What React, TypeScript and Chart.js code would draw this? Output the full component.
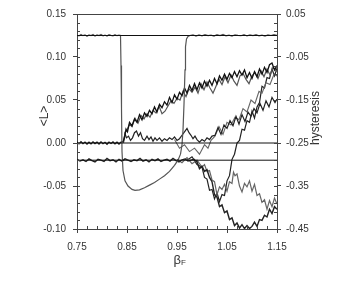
import React, { useEffect, useRef } from "react";
import { Chart, registerables } from "chart.js";

Chart.register(...registerables);

const xTickValues = [0.75, 0.85, 0.95, 1.05, 1.15];
const leftTickValues = [0.15, 0.1, 0.05, 0.0, -0.05, -0.1];
const rightTickValues = [0.05, -0.05, -0.15, -0.25, -0.35, -0.45];
const xTitle = "β";
const xTitleSub = "F";
const leftTitle = "<L>";
const rightTitle = "hysteresis";

// reference lines (left axis <L>)
const refLevels = [0.125, 0.0, -0.02];

// trace A (<L>): upper plateau, drop, dip, jump back
const traceA: [number, number][] = [
  [0.750, 0.1255], [0.754, 0.1245], [0.758, 0.1262], [0.762, 0.1248], [0.766, 0.1258], [0.770, 0.1242],
  [0.774, 0.1256], [0.778, 0.1250], [0.782, 0.1261], [0.786, 0.1244], [0.790, 0.1257], [0.794, 0.1249],
  [0.798, 0.1263], [0.802, 0.1246], [0.806, 0.1255], [0.810, 0.1243], [0.814, 0.1259], [0.818, 0.1251],
  [0.822, 0.1246], [0.826, 0.1260], [0.830, 0.1248], [0.834, 0.1254], [0.837, 0.1250],
  [0.838, 0.09], [0.839, 0.04], [0.840, -0.01], [0.842, -0.032], [0.846, -0.044], [0.852, -0.050],
  [0.860, -0.054], [0.866, -0.055], [0.875, -0.0545], [0.885, -0.052], [0.895, -0.049], [0.905, -0.046],
  [0.915, -0.042], [0.925, -0.038], [0.935, -0.033], [0.945, -0.026], [0.952, -0.020], [0.957, -0.013],
  [0.960, -0.002], [0.962, 0.015], [0.964, 0.045], [0.966, 0.085], [0.967, 0.112], [0.969, 0.121],
  [0.972, 0.124], [0.976, 0.125],
  [0.982, 0.1258], [0.988, 0.1244], [0.994, 0.1256], [1.000, 0.1247], [1.006, 0.1261], [1.012, 0.1249],
  [1.018, 0.1255], [1.024, 0.1243], [1.030, 0.1259], [1.036, 0.1250], [1.042, 0.1262], [1.048, 0.1246],
  [1.054, 0.1254], [1.060, 0.1244], [1.066, 0.1258], [1.072, 0.1251], [1.078, 0.1247], [1.084, 0.1260],
  [1.090, 0.1245], [1.096, 0.1256], [1.102, 0.1249], [1.108, 0.1261], [1.114, 0.1246], [1.120, 0.1255],
  [1.126, 0.1243], [1.132, 0.1257], [1.138, 0.1250], [1.144, 0.1259], [1.150, 0.1252],
];

// trace B (<L>): zero line then top of rising bundle
const traceB: [number, number][] = [
  [0.750, 0.0012], [0.754, -0.0010], [0.758, 0.0015], [0.762, -0.0008], [0.766, 0.0011], [0.770, -0.0013],
  [0.774, 0.0009], [0.778, -0.0011], [0.782, 0.0014], [0.786, -0.0007], [0.790, 0.0010], [0.794, -0.0012],
  [0.798, 0.0013], [0.802, -0.0009], [0.806, 0.0008], [0.810, -0.0014], [0.814, 0.0011], [0.818, -0.0006],
  [0.822, 0.0012], [0.826, -0.0010], [0.830, 0.0009], [0.834, -0.0012], [0.838, 0.0010], [0.842, 0.0015],
  [0.845, 0.006], [0.848, 0.016], [0.851, 0.013], [0.855, 0.024], [0.860, 0.020], [0.865, 0.028],
  [0.870, 0.024], [0.875, 0.033], [0.880, 0.027], [0.885, 0.035], [0.890, 0.031], [0.895, 0.038],
  [0.900, 0.034], [0.905, 0.042], [0.910, 0.036], [0.915, 0.045], [0.920, 0.041], [0.925, 0.048],
  [0.930, 0.044], [0.935, 0.053], [0.940, 0.047], [0.945, 0.056], [0.950, 0.051], [0.955, 0.059],
  [0.960, 0.055], [0.965, 0.064], [0.970, 0.058], [0.975, 0.067], [0.980, 0.061], [0.985, 0.069],
  [0.990, 0.062], [0.995, 0.070], [1.000, 0.064], [1.005, 0.072], [1.010, 0.066], [1.015, 0.073],
  [1.020, 0.067], [1.025, 0.075], [1.030, 0.069], [1.035, 0.078], [1.040, 0.073], [1.045, 0.080],
  [1.050, 0.074], [1.055, 0.081], [1.060, 0.076], [1.065, 0.083], [1.070, 0.077], [1.075, 0.084],
  [1.080, 0.079], [1.085, 0.085], [1.090, 0.076], [1.095, 0.082], [1.100, 0.075], [1.105, 0.083],
  [1.110, 0.077], [1.115, 0.086], [1.120, 0.080], [1.125, 0.088], [1.130, 0.082], [1.135, 0.091],
  [1.140, 0.093], [1.145, 0.085], [1.150, 0.090],
];

// trace C (<L>): lower member of rising bundle
const traceC: [number, number][] = [
  [0.843, 0.0], [0.846, 0.012], [0.850, 0.015], [0.855, 0.022], [0.860, 0.019], [0.866, 0.029],
  [0.872, 0.023], [0.878, 0.032], [0.884, 0.028], [0.890, 0.034], [0.896, 0.030], [0.902, 0.038],
  [0.908, 0.035], [0.914, 0.043], [0.920, 0.034], [0.926, 0.037], [0.932, 0.043], [0.938, 0.049],
  [0.944, 0.046], [0.950, 0.052], [0.956, 0.050], [0.962, 0.060], [0.968, 0.054], [0.974, 0.063],
  [0.980, 0.059], [0.986, 0.065], [0.992, 0.058], [0.998, 0.069], [1.004, 0.062], [1.010, 0.071],
  [1.016, 0.064], [1.022, 0.058], [1.028, 0.066], [1.034, 0.074], [1.040, 0.068], [1.046, 0.077],
  [1.052, 0.070], [1.058, 0.079], [1.064, 0.072], [1.070, 0.067], [1.076, 0.078], [1.082, 0.081],
  [1.088, 0.074], [1.094, 0.069], [1.100, 0.078], [1.106, 0.082], [1.112, 0.075], [1.118, 0.084],
  [1.124, 0.077], [1.130, 0.086], [1.136, 0.079], [1.142, 0.088], [1.150, 0.083],
];

// trace D (<L>): low trace near zero, rising late
const traceD: [number, number][] = [
  [0.843, 0.002], [0.846, 0.011], [0.849, 0.006], [0.853, 0.008], [0.857, 0.003], [0.861, 0.006],
  [0.865, 0.012], [0.869, 0.014], [0.873, 0.008], [0.877, 0.012], [0.881, 0.005], [0.885, 0.003],
  [0.890, 0.008], [0.894, 0.004], [0.898, 0.007], [0.902, 0.002], [0.906, 0.006], [0.910, 0.003],
  [0.915, 0.006], [0.920, 0.002], [0.925, 0.005], [0.930, 0.003], [0.935, 0.006], [0.940, 0.004],
  [0.945, 0.007], [0.950, 0.003], [0.955, 0.005], [0.960, 0.009], [0.965, 0.013], [0.970, 0.017],
  [0.974, 0.012], [0.978, 0.009], [0.982, 0.005], [0.986, 0.008], [0.990, 0.004], [0.995, 0.001],
  [1.000, 0.004], [1.005, 0.002], [1.010, 0.006], [1.015, 0.004], [1.020, 0.008], [1.026, 0.009],
  [1.032, 0.018], [1.038, 0.010], [1.044, 0.021], [1.050, 0.017], [1.056, 0.026], [1.062, 0.020],
  [1.068, 0.031], [1.074, 0.022], [1.080, 0.033], [1.086, 0.025], [1.092, 0.036], [1.098, 0.031],
  [1.104, 0.040], [1.110, 0.035], [1.116, 0.046], [1.122, 0.038], [1.128, 0.049], [1.134, 0.042],
  [1.140, 0.053], [1.146, 0.047], [1.150, 0.051],
];

// trace H (<L>): crosses below zero then rises
const traceH: [number, number][] = [
  [0.945, 0.004], [0.955, -0.006], [0.965, -0.002], [0.975, -0.010], [0.985, -0.006], [0.995, -0.013],
  [1.005, -0.002], [1.012, -0.006], [1.018, 0.003], [1.026, 0.008], [1.034, 0.019], [1.042, 0.010],
  [1.050, 0.024], [1.058, 0.021], [1.066, 0.030], [1.074, 0.027], [1.082, 0.040], [1.090, 0.036],
  [1.098, 0.050], [1.106, 0.046], [1.114, 0.060], [1.120, 0.058], [1.128, 0.070], [1.136, 0.068],
  [1.144, 0.080], [1.150, 0.078],
];

// trace F (hysteresis, right axis): flat then deepest descent
const traceF: [number, number][] = [
  [0.750, -0.288], [0.756, -0.292], [0.762, -0.289], [0.768, -0.293], [0.774, -0.287], [0.780, -0.291],
  [0.786, -0.294], [0.792, -0.288], [0.798, -0.290], [0.804, -0.293], [0.810, -0.286], [0.816, -0.291],
  [0.822, -0.289], [0.828, -0.294], [0.834, -0.288], [0.840, -0.292], [0.846, -0.287], [0.852, -0.290],
  [0.858, -0.293], [0.864, -0.289], [0.870, -0.291], [0.876, -0.286], [0.882, -0.292], [0.888, -0.289],
  [0.894, -0.294], [0.900, -0.288], [0.906, -0.291], [0.912, -0.287], [0.918, -0.293], [0.924, -0.290],
  [0.930, -0.288], [0.936, -0.292], [0.942, -0.286], [0.948, -0.291], [0.954, -0.294], [0.960, -0.289],
  [0.966, -0.287], [0.972, -0.292], [0.978, -0.290], [0.984, -0.288],
  [0.990, -0.294], [0.995, -0.310], [1.000, -0.304], [1.005, -0.316], [1.010, -0.312], [1.015, -0.330],
  [1.020, -0.340], [1.025, -0.370], [1.030, -0.376], [1.035, -0.398], [1.040, -0.394], [1.045, -0.412],
  [1.050, -0.408], [1.055, -0.428], [1.060, -0.424], [1.065, -0.442], [1.070, -0.436], [1.075, -0.448],
  [1.080, -0.440], [1.085, -0.449], [1.090, -0.442], [1.095, -0.449], [1.100, -0.444], [1.105, -0.434],
  [1.110, -0.444], [1.115, -0.428], [1.120, -0.430], [1.125, -0.418], [1.130, -0.422], [1.135, -0.404],
  [1.140, -0.414], [1.145, -0.398], [1.150, -0.404],
];

// trace G (hysteresis, right axis): descent with a peak
const traceG: [number, number][] = [
  [0.950, -0.288], [0.960, -0.296], [0.970, -0.284], [0.980, -0.298], [0.990, -0.290], [1.000, -0.306],
  [1.005, -0.300], [1.010, -0.316], [1.015, -0.314], [1.020, -0.336], [1.025, -0.340], [1.030, -0.370],
  [1.035, -0.352], [1.040, -0.358], [1.045, -0.346], [1.050, -0.362], [1.055, -0.340], [1.060, -0.344],
  [1.063, -0.318], [1.066, -0.326], [1.070, -0.322], [1.075, -0.350], [1.080, -0.364], [1.085, -0.344],
  [1.090, -0.352], [1.095, -0.338], [1.100, -0.362], [1.105, -0.346], [1.110, -0.372], [1.115, -0.368],
  [1.120, -0.388], [1.125, -0.382], [1.130, -0.404], [1.135, -0.384], [1.140, -0.398], [1.145, -0.378],
  [1.150, -0.392],
];

// trace E (hysteresis, right axis): dips then climbs into the bundle
const traceE: [number, number][] = [
  [0.970, -0.290], [0.980, -0.282], [0.990, -0.300], [1.000, -0.306], [1.005, -0.330], [1.010, -0.334],
  [1.015, -0.360], [1.020, -0.358], [1.025, -0.380], [1.030, -0.366], [1.035, -0.386], [1.040, -0.370],
  [1.045, -0.372], [1.050, -0.338], [1.055, -0.326], [1.060, -0.288], [1.065, -0.276], [1.070, -0.250],
  [1.075, -0.244], [1.080, -0.218], [1.085, -0.220], [1.090, -0.198], [1.095, -0.202], [1.100, -0.176],
  [1.105, -0.192], [1.110, -0.166], [1.115, -0.156], [1.120, -0.118], [1.125, -0.122], [1.130, -0.098],
  [1.135, -0.100], [1.140, -0.078], [1.145, -0.094], [1.150, -0.076],
];

const FONT = "'Liberation Sans', Arial, sans-serif";
const AXIS_COLOR = "#444";
const TEXT_COLOR = "#333";

const decoPlugin = {
  id: "deco",
  afterDraw(chart: any) {
    const { ctx, chartArea } = chart;
    const { left, right, top, bottom } = chartArea;
    const xs = chart.scales.x;
    const yl = chart.scales.y;
    const yr = chart.scales.y1;
    ctx.save();
    ctx.strokeStyle = AXIS_COLOR;
    ctx.lineWidth = 1;
    // top border
    ctx.beginPath();
    ctx.moveTo(left, top + 0.5);
    ctx.lineTo(right, top + 0.5);
    ctx.stroke();
    // minor ticks
    ctx.beginPath();
    for (let i = 0; i <= 20; i++) {
      const v = 0.75 + i * 0.02;
      const px = Math.round(xs.getPixelForValue(v)) + 0.5;
      ctx.moveTo(px, bottom);
      ctx.lineTo(px, bottom - 3);
    }
    for (let i = 0; i <= 25; i++) {
      const v = -0.1 + i * 0.01;
      const py = Math.round(yl.getPixelForValue(v)) + 0.5;
      ctx.moveTo(left, py);
      ctx.lineTo(left + 3, py);
    }
    for (let i = 0; i <= 25; i++) {
      const v = -0.45 + i * 0.02;
      const py = Math.round(yr.getPixelForValue(v)) + 0.5;
      ctx.moveTo(right, py);
      ctx.lineTo(right - 3, py);
    }
    ctx.stroke();
    // titles
    ctx.fillStyle = TEXT_COLOR;
    ctx.textBaseline = "middle";
    ctx.textAlign = "center";
    ctx.font = `12px ${FONT}`;
    ctx.save();
    ctx.translate(45, 116);
    ctx.rotate(-Math.PI / 2);
    ctx.fillText(leftTitle, 0, 0);
    ctx.restore();
    ctx.save();
    ctx.translate(316, 118);
    ctx.rotate(-Math.PI / 2);
    ctx.fillText(rightTitle, 0, 0);
    ctx.restore();
    ctx.font = `13px ${FONT}`;
    ctx.textAlign = "right";
    ctx.fillText(xTitle, 181, 260);
    ctx.font = `8px ${FONT}`;
    ctx.textAlign = "left";
    ctx.fillText(xTitleSub, 181, 263);
    ctx.restore();
  },
};

function toPts(arr: [number, number][]) {
  return arr.map(([x, y]) => ({ x, y }));
}

export default function App() {
  const ref = useRef<HTMLCanvasElement>(null);
  useEffect(() => {
    if (!ref.current) return;
    const mk = (data: [number, number][], color: string, width: number, axis = "y") => ({
      data: toPts(data),
      borderColor: color,
      borderWidth: width,
      pointRadius: 0,
      tension: 0,
      fill: false,
      yAxisID: axis,
    });
    const datasets: any[] = refLevels.map((lv) =>
      mk([[0.75, lv], [1.15, lv]], "#111", 1)
    );
    datasets.push(mk(traceA, "#555", 1.2));
    datasets.push(mk(traceB, "#111", 1.3));
    datasets.push(mk(traceC, "#555", 1.2));
    datasets.push(mk(traceD, "#222", 1.2));
    datasets.push(mk(traceH, "#666", 1.1));
    datasets.push(mk(traceF, "#222", 1.4, "y1"));
    datasets.push(mk(traceG, "#666", 1.2, "y1"));
    datasets.push(mk(traceE, "#222", 1.2, "y1"));

    const tickFont = { family: FONT, size: 10 };
    const chart = new Chart(ref.current, {
      type: "line",
      data: { datasets },
      options: {
        responsive: false,
        animation: false,
        layout: { padding: { top: 14, left: 0, right: 0, bottom: 0 } },
        plugins: { legend: { display: false }, tooltip: { enabled: false } },
        scales: {
          x: {
            type: "linear",
            min: 0.75,
            max: 1.15,
            afterBuildTicks: (s: any) => {
              s.ticks = xTickValues.map((v) => ({ value: v }));
            },
            afterFit: (s: any) => {
              s.height = 59;
            },
            ticks: {
              autoSkip: false,
              maxRotation: 0,
              padding: 8,
              color: TEXT_COLOR,
              font: tickFont,
              callback: (v: any) => Number(v).toFixed(2),
            },
            grid: { drawOnChartArea: false, tickLength: 4, color: AXIS_COLOR },
            border: { display: true, color: AXIS_COLOR },
          },
          y: {
            type: "linear",
            position: "left",
            min: -0.1,
            max: 0.15,
            afterBuildTicks: (s: any) => {
              s.ticks = leftTickValues.map((v) => ({ value: v }));
            },
            afterFit: (s: any) => {
              s.width = 77;
            },
            ticks: {
              autoSkip: false,
              padding: 7,
              color: TEXT_COLOR,
              font: tickFont,
              callback: (v: any) => Number(v).toFixed(2),
            },
            grid: { drawOnChartArea: false, tickLength: 4, color: AXIS_COLOR },
            border: { display: true, color: AXIS_COLOR },
          },
          y1: {
            type: "linear",
            position: "right",
            min: -0.45,
            max: 0.05,
            afterBuildTicks: (s: any) => {
              s.ticks = rightTickValues.map((v) => ({ value: v }));
            },
            afterFit: (s: any) => {
              s.width = 83;
            },
            ticks: {
              autoSkip: false,
              padding: 5,
              color: TEXT_COLOR,
              font: tickFont,
              callback: (v: any) => Number(v).toFixed(2),
            },
            grid: { drawOnChartArea: false, tickLength: 4, color: AXIS_COLOR },
            border: { display: true, color: AXIS_COLOR },
          },
        },
      },
      plugins: [decoPlugin],
    });
    return () => chart.destroy();
  }, []);
  return (
    <div style={{ position: "absolute", left: 0, top: 0, width: 360, height: 288, background: "#fff" }}>
      <canvas ref={ref} width={360} height={288} style={{ width: 360, height: 288 }} />
    </div>
  );
}
